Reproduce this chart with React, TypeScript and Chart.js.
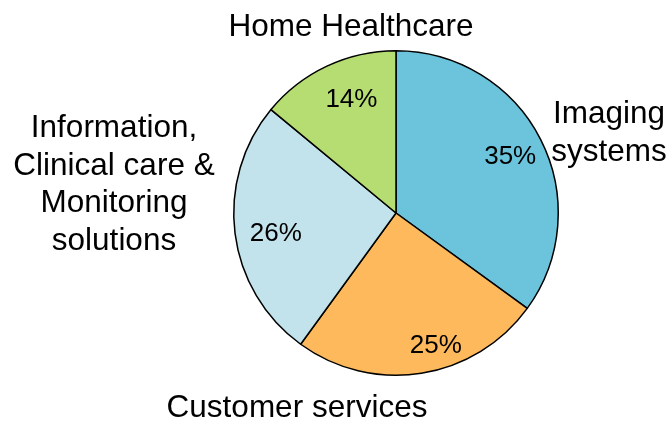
import React, { useEffect, useRef } from "react";
import { Chart, registerables } from "chart.js";

Chart.register(...registerables);

// ---- data ----
const categories = [
  "Imaging systems",
  "Customer services",
  "Information, Clinical care & Monitoring solutions",
  "Home Healthcare",
];
const shares = [35, 25, 26, 14];
const outerLabelLines = [
  ["Imaging", "systems"],
  ["Customer services"],
  ["Information,", "Clinical care &", "Monitoring", "solutions"],
  ["Home Healthcare"],
];

// ---- style ----
const sliceColors = ["#6BC4DB", "#FDB95B", "#C2E3EC", "#B6DD72"];
const outerLabelPos = [
  { x: 609, y: 123 },
  { x: 297, y: 417 },
  { x: 114, y: 137 },
  { x: 351, y: 36 },
];
const outerLineHeight = 37.5;
const pctRadiusFactor = [0.79, 0.84, 0.75, 0.76];
const pctAngleShiftDeg = [0, -8, -1.6, 4];
const FONT = "'Liberation Sans', Arial, Helvetica, sans-serif";

const labelPlugin = {
  id: "pieLabels",
  afterDraw(chart: any) {
    const ctx = chart.ctx;
    const meta = chart.getDatasetMeta(0);
    ctx.save();
    ctx.fillStyle = "#000";
    // percentage labels
    ctx.font = `26px ${FONT}`;
    ctx.textAlign = "center";
    ctx.textBaseline = "alphabetic";
    meta.data.forEach((arc: any, i: number) => {
      const p = arc.getProps(["x", "y", "startAngle", "endAngle", "outerRadius"], true);
      const mid = (p.startAngle + p.endAngle) / 2 + (pctAngleShiftDeg[i] * Math.PI) / 180;
      const r = p.outerRadius * pctRadiusFactor[i];
      const cx = p.x + Math.cos(mid) * r;
      const cy = p.y + Math.sin(mid) * r;
      ctx.fillText(`${shares[i]}%`, cx, cy + 0.358 * 26);
    });
    // category labels
    ctx.font = `31.5px ${FONT}`;
    outerLabelLines.forEach((lines, i) => {
      lines.forEach((line, j) => {
        ctx.fillText(line, outerLabelPos[i].x, outerLabelPos[i].y + j * outerLineHeight);
      });
    });
    ctx.restore();
  },
};

export default function App() {
  const ref = useRef<HTMLCanvasElement>(null);
  useEffect(() => {
    if (!ref.current) return;
    const chart = new Chart(ref.current, {
      type: "pie",
      data: {
        labels: categories,
        datasets: [
          {
            data: shares,
            backgroundColor: sliceColors,
            borderColor: "#000",
            borderWidth: 1.5,
          },
        ],
      },
      options: {
        responsive: false,
        animation: false,
        layout: { padding: { top: 50, bottom: 49, left: 200, right: 79 } },
        plugins: {
          legend: { display: false },
          tooltip: { enabled: false },
          title: { display: false },
        },
      },
      plugins: [labelPlugin],
    });
    return () => chart.destroy();
  }, []);
  return (
    <div style={{ position: "absolute", left: 0, top: 0, width: 671, height: 425, background: "#fff" }}>
      <canvas ref={ref} width={671} height={425} />
    </div>
  );
}
